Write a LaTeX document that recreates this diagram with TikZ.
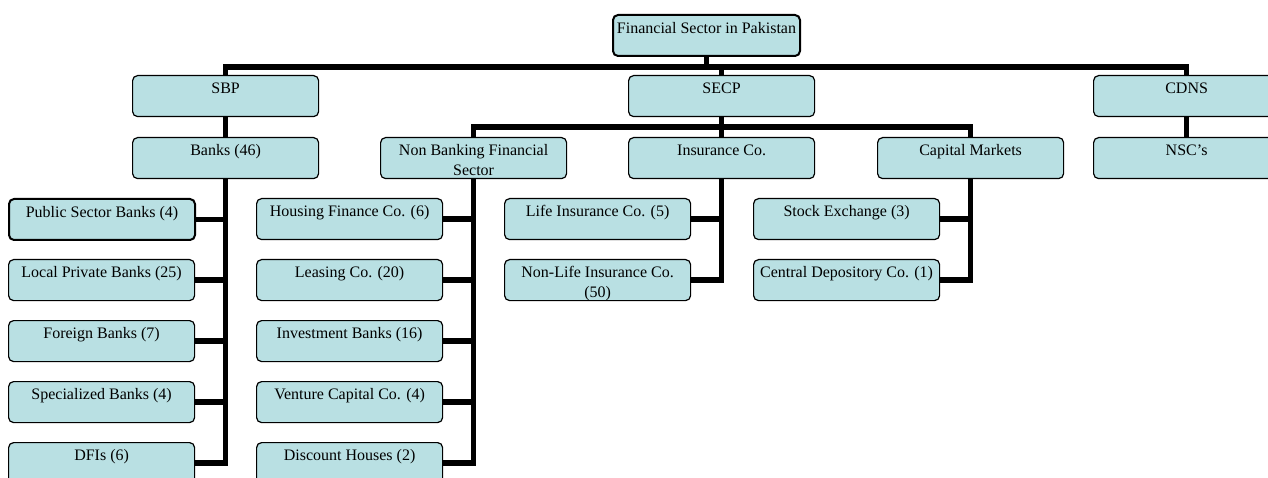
\documentclass[tikz,border=0pt]{standalone}
\usepackage{fontspec}
\setmainfont{Liberation Serif}
\definecolor{boxfill}{RGB}{185,224,227}
\tikzset{
  orgbox/.style={draw=black, line width=1.2pt, rounded corners=5pt, fill=boxfill, inner sep=0pt, anchor=north west},
  thickbox/.style={orgbox, line width=2pt},
  conn/.style={line width=5.5pt, draw=black, line join=miter},
}
\newcommand{\bxt}[2][186pt]{\parbox[t][41pt][t]{#1}{\centering\fontsize{16}{19.5}\selectfont\rule{0pt}{18.3pt}#2}}
\begin{document}
\begin{tikzpicture}[x=1pt,y=-1pt]
\clip (0,0) rectangle (1268,478);
% top levels
\node[thickbox] (top) at (612,14) {\bxt[187pt]{Financial Sector in Pakistan}};
\node[orgbox] (sbp) at (132,75) {\bxt{SBP}};
\node[orgbox] (secp) at (628,75) {\bxt{SECP}};
\node[orgbox] (cdns) at (1093,75) {\bxt{CDNS}};
\node[orgbox] (banks) at (132,137) {\bxt{Banks (46)}};
\node[orgbox] (nbfs) at (380,137) {\bxt{Non Banking Financial\\Sector}};
\node[orgbox] (ins) at (628,137) {\bxt{Insurance Co.}};
\node[orgbox] (cap) at (877,137) {\bxt{Capital Markets}};
\node[orgbox] (nsc) at (1093,137) {\bxt{NSC’s}};
% banks children
\node[thickbox] (psb) at (8,198) {\bxt{Public Sector Banks (4)}};
\node[orgbox] (lpb) at (8,259) {\bxt{Local Private Banks (25)}};
\node[orgbox] (fb) at (8,320) {\bxt{Foreign Banks (7)}};
\node[orgbox] (spb) at (8,381) {\bxt{Specialized Banks (4)}};
\node[orgbox] (dfi) at (8,442) {\bxt{DFIs (6)}};
% nbfs children
\node[orgbox] (hfc) at (256,198) {\bxt{Housing Finance Co. (6)}};
\node[orgbox] (lc) at (256,259) {\bxt{Leasing Co. (20)}};
\node[orgbox] (ib) at (256,320) {\bxt{Investment Banks (16)}};
\node[orgbox] (vc) at (256,381) {\bxt{Venture Capital Co. (4)}};
\node[orgbox] (dh) at (256,442) {\bxt{Discount Houses (2)}};
% insurance children
\node[orgbox] (lic) at (504,198) {\bxt{Life Insurance Co. (5)}};
\node[orgbox] (nlic) at (504,259) {\bxt{Non-Life Insurance Co.\\(50)}};
% capital market children
\node[orgbox] (se) at (753,198) {\bxt{Stock Exchange (3)}};
\node[orgbox] (cdc) at (753,259) {\bxt{Central Depository Co. (1)}};
% connectors
\draw[conn] (top.south) -- ++(0,10) -| (sbp.north);
\draw[conn] (top.south) -- ++(0,10) -| (secp.north);
\draw[conn] (top.south) -- ++(0,10) -| (cdns.north);
\draw[conn] (sbp.south) -- (banks.north);
\draw[conn] (cdns.south) -- (nsc.north);
\draw[conn] (secp.south) -- ++(0,10) -| (nbfs.north);
\draw[conn] (secp.south) -- ++(0,10) -| (ins.north);
\draw[conn] (secp.south) -- ++(0,10) -| (cap.north);
\foreach \c in {psb,lpb,fb,spb,dfi}{\draw[conn] (banks.south) |- (\c.east);}
\foreach \c in {hfc,lc,ib,vc,dh}{\draw[conn] (nbfs.south) |- (\c.east);}
\foreach \c in {lic,nlic}{\draw[conn] (ins.south) |- (\c.east);}
\foreach \c in {se,cdc}{\draw[conn] (cap.south) |- (\c.east);}
\end{tikzpicture}
\end{document}
